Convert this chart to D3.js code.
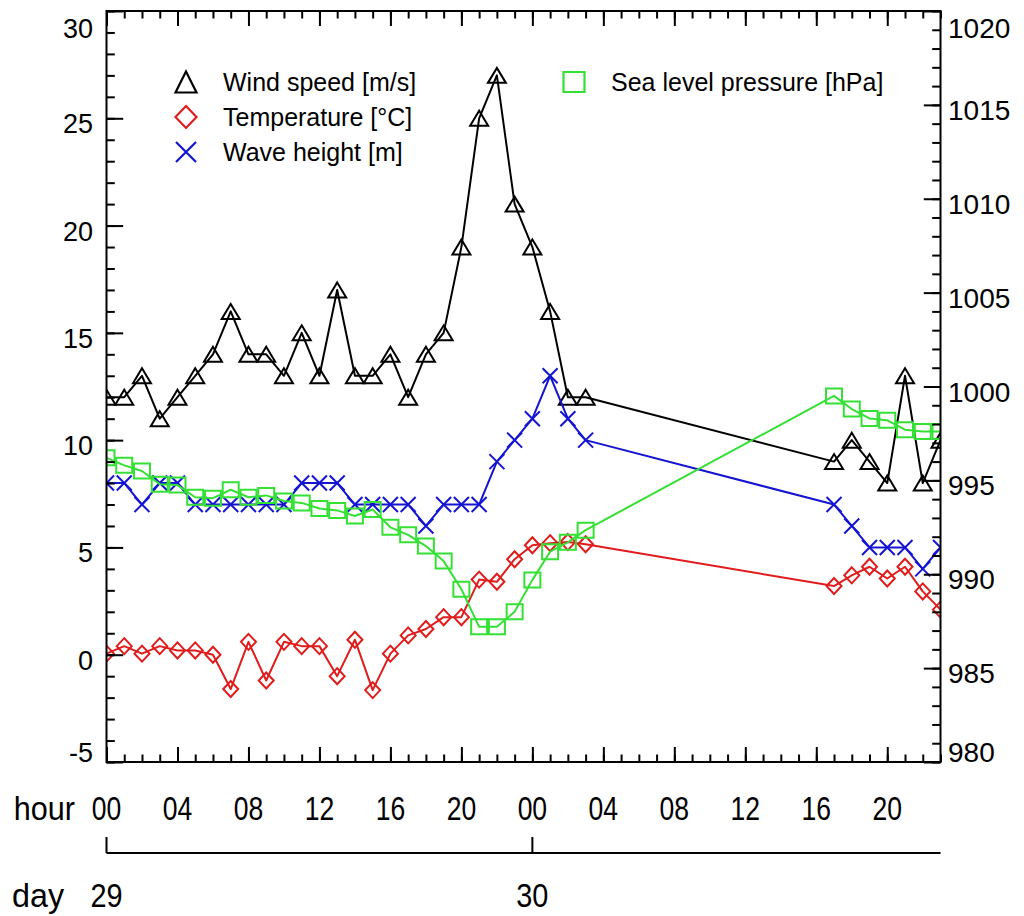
<!DOCTYPE html>
<html>
<head>
<meta charset="utf-8">
<script src="https://cdn.jsdelivr.net/npm/d3@7"></script>
<style>
  html, body { margin: 0; padding: 0; background: #fff; }
  svg { display: block; font-family: "Liberation Sans", Arial, Helvetica, sans-serif; }
</style>
</head>
<body>
<svg id="chart" width="1024" height="916"></svg>
<script>
// Observation hours since 00 UTC on day 29 (gap between hour 27 and hour 41)
const hours = [0,1,2,3,4,5,6,7,8,9,10,11,12,13,14,15,16,17,18,19,20,21,22,23,24,25,26,27,41,42,43,44,45,46,47];

// Wind speed [m/s]
const windSpeed = [12,12,13,11,12,13,14,16,14,14,13,15,13,17,13,13,14,12,14,15,19,25,27,21,19,16,12,12,9,10,9,8,13,8,10];

// Air temperature [°C]
const temperature = [0.05,0.4,0.05,0.4,0.2,0.2,0.0,-1.6,0.6,-1.2,0.6,0.4,0.4,-1.0,0.7,-1.65,0.05,0.9,1.2,1.75,1.75,3.5,3.4,4.45,5.1,5.2,5.25,5.15,3.2,3.7,4.1,3.55,4.1,2.95,2.1];

// Significant wave height [m]
const waveHeight = [8,8,7,8,8,7,7,7,7,7,7,8,8,8,7,7,7,7,6,7,7,7,9,10,11,13,11,10,7,6,5,5,5,4,5];

// Sea level pressure [hPa] (right axis)
const pressure = [996.2,995.8,995.5,994.8,994.75,994.1,994.05,994.5,994.1,994.2,993.9,993.8,993.5,993.4,993.1,993.45,992.5,992.1,991.5,990.7,989.2,987.2,987.2,988.0,989.7,991.2,991.7,992.35,999.5,998.8,998.3,998.2,997.7,997.6,997.6];

// Axis ticks and labels
const leftTicks = [-5,0,5,10,15,20,25,30];
const rightTicks = [980,985,990,995,1000,1005,1010,1015,1020];
const hourTicks = [0,4,8,12,16,20,24,28,32,36,40,44];
const hourLabels = ["00","04","08","12","16","20","00","04","08","12","16","20"];
const dayTicks = [0,24];
const dayLabels = ["29","30"];

const seriesNames = ["Wind speed [m/s]","Temperature [°C]","Wave height [m]","Sea level pressure [hPa]"];

const svg = d3.select("#chart");
const L = 106.5, R = 940.5, T = 11, B = 762;

const x = d3.scaleLinear().domain([0,47]).range([L,R]);
const yL = d3.scaleLinear().domain([-5,30]).range([B,T]);
const yR = d3.scaleLinear().domain([980,1020]).range([B,T]);

const RED = "#e01c1c", BLUE = "#1414d2", GREEN = "#35e035", BLACK = "#000";

svg.append("defs").append("clipPath").attr("id","plotClip")
  .append("rect").attr("x",L).attr("y",T).attr("width",R-L).attr("height",B-T);

// Symbol path generators
const sym = {
  triangle: (w,h) => `M0,${-h}L${w},${h}L${-w},${h}Z`,
  diamond: (w,h) => `M0,${-h}L${w},0L0,${h}L${-w},0Z`,
  cross: (w,h) => `M${-w},${-h}L${w},${h}M${-w},${h}L${w},${-h}`,
  square: (w,h) => `M${-w},${-h}H${w}V${h}H${-w}Z`
};

const series = [
  {vals: windSpeed, y: yL, color: BLACK, shape: "triangle", ds: [9,7.5], ls: [10.5,10.5]},
  {vals: temperature, y: yL, color: RED, shape: "diamond", ds: [7.5,8], ls: [10.5,11]},
  {vals: waveHeight, y: yL, color: BLUE, shape: "cross", ds: [7.5,7.5], ls: [10,10]},
  {vals: pressure, y: yR, color: GREEN, shape: "square", ds: [8,7.5], ls: [10.5,10]}
];

const plot = svg.append("g").attr("clip-path","url(#plotClip)");
series.forEach(s => {
  const pts = hours.map((h,i) => [x(h), s.y(s.vals[i])]);
  plot.append("path")
    .attr("d", d3.line()(pts))
    .attr("fill","none").attr("stroke",s.color).attr("stroke-width",2)
    .attr("stroke-linejoin","round");
  plot.append("g").selectAll("path").data(pts).join("path")
    .attr("transform", d => `translate(${d[0]},${d[1]})`)
    .attr("d", sym[s.shape](s.ds[0], s.ds[1]))
    .attr("fill","none").attr("stroke",s.color).attr("stroke-width",2);
});

// Frame
svg.append("rect").attr("x",L).attr("y",T).attr("width",R-L).attr("height",B-T)
  .attr("fill","none").attr("stroke","#000").attr("stroke-width",2);

function tickGroup(g) {
  g.select(".domain").remove();
  g.selectAll("line").attr("stroke","#000").attr("stroke-width",2);
}
const minorHours = d3.range(0,48);
const minorLeft = d3.range(-5,31);
const minorRight = d3.range(980,1021);

// Bottom and top hour ticks (pointing inward)
svg.append("g").attr("transform",`translate(0,${B})`)
  .call(d3.axisTop(x).tickValues(minorHours).tickSize(7.5).tickFormat("")).call(tickGroup);
svg.append("g").attr("transform",`translate(0,${B})`)
  .call(d3.axisTop(x).tickValues(hourTicks).tickSize(15).tickFormat("")).call(tickGroup);
svg.append("g").attr("transform",`translate(0,${T})`)
  .call(d3.axisBottom(x).tickValues(minorHours).tickSize(7.5).tickFormat("")).call(tickGroup);
svg.append("g").attr("transform",`translate(0,${T})`)
  .call(d3.axisBottom(x).tickValues(hourTicks).tickSize(15).tickFormat("")).call(tickGroup);

// Left and right value ticks
svg.append("g").attr("transform",`translate(${L},0)`)
  .call(d3.axisRight(yL).tickValues(minorLeft).tickSize(8.3).tickFormat("")).call(tickGroup);
svg.append("g").attr("transform",`translate(${L},0)`)
  .call(d3.axisRight(yL).tickValues(leftTicks).tickSize(16.7).tickFormat("")).call(tickGroup);
svg.append("g").attr("transform",`translate(${R},0)`)
  .call(d3.axisLeft(yR).tickValues(minorRight).tickSize(8.3).tickFormat("")).call(tickGroup);
svg.append("g").attr("transform",`translate(${R},0)`)
  .call(d3.axisLeft(yR).tickValues(rightTicks).tickSize(16.7).tickFormat("")).call(tickGroup);

// Value labels
function labelY(py, top, bottom) {
  if (Math.abs(py - top) < 1) return 38;
  if (Math.abs(py - bottom) < 1) return 762;
  return py + 15;
}
svg.append("g").selectAll("text").data(leftTicks).join("text")
  .attr("x", 93).attr("y", d => labelY(yL(d), T, B))
  .attr("text-anchor","end").attr("font-size",27).text(d => d);
svg.append("g").selectAll("text").data(rightTicks).join("text")
  .attr("x", 948).attr("y", d => labelY(yR(d), T, B))
  .attr("text-anchor","start").attr("font-size",28).text(d => d);

// Hour row
const narrow = 0.78;
svg.append("text").attr("transform","translate(75,820) scale(0.9,1)")
  .attr("text-anchor","end").attr("font-size",34).text("hour");
svg.append("g").selectAll("text").data(hourTicks).join("text")
  .attr("transform", d => `translate(${x(d)},820) scale(${narrow},1)`)
  .attr("text-anchor","middle").attr("font-size",34)
  .text((d,i) => hourLabels[i]);

// Day axis
svg.append("line").attr("x1",L).attr("x2",R).attr("y1",853).attr("y2",853)
  .attr("stroke","#000").attr("stroke-width",2);
svg.append("g").selectAll("line").data(dayTicks).join("line")
  .attr("x1", d => x(d)).attr("x2", d => x(d)).attr("y1",837).attr("y2",853)
  .attr("stroke","#000").attr("stroke-width",2);
svg.append("text").attr("transform","translate(12,907) scale(0.95,1)")
  .attr("text-anchor","start").attr("font-size",34).text("day");
svg.append("g").selectAll("text").data(dayTicks).join("text")
  .attr("transform", d => `translate(${x(d)},907) scale(0.85,1)`)
  .attr("text-anchor","middle").attr("font-size",34)
  .text((d,i) => dayLabels[i]);

// Legend
const legendPos = [[186,82],[186,117],[186,152],[574,82]];
const legend = svg.append("g");
series.forEach((s,i) => {
  const [lx,ly] = legendPos[i];
  legend.append("path").attr("transform",`translate(${lx},${ly})`)
    .attr("d", sym[s.shape](s.ls[0], s.ls[1]))
    .attr("fill","none").attr("stroke",s.color).attr("stroke-width",2.2);
  legend.append("text").attr("x", lx + 37).attr("y", ly + 9)
    .attr("font-size",25).attr("fill","#000").text(seriesNames[i]);
});
</script>
</body>
</html>
